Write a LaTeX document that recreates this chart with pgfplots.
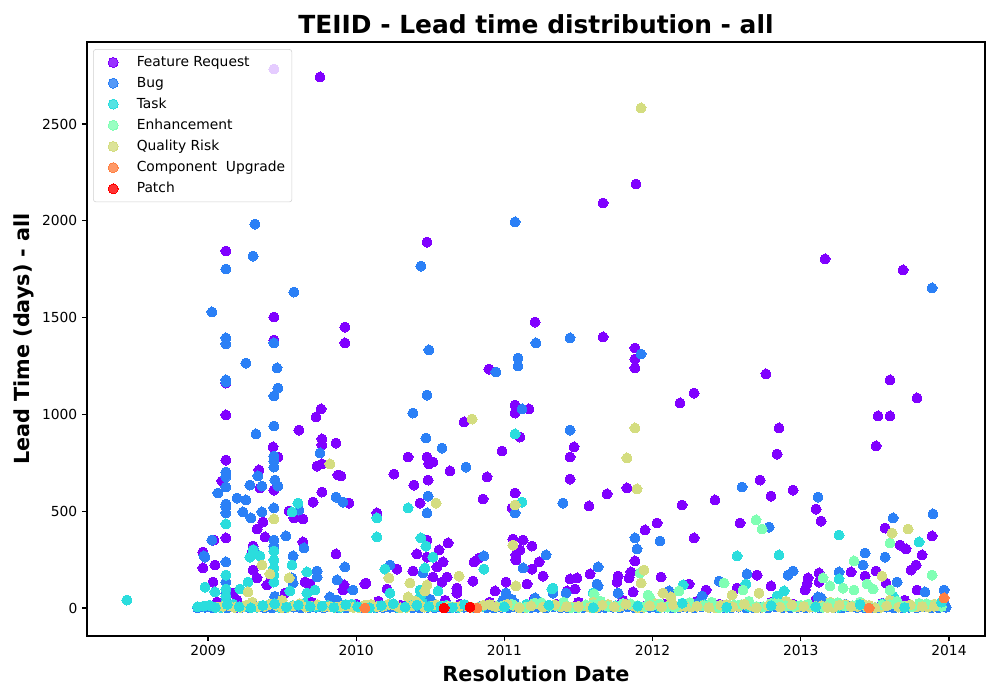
\documentclass[border=0pt]{standalone}
\usepackage{fontspec}
\setmainfont{DejaVu Sans}
\usepackage{pgfplots}
\pgfplotsset{compat=1.18}
\definecolor{cFR}{rgb}{0.5,0,1}
\definecolor{cBug}{rgb}{0.1667,0.5,0.9659}
\definecolor{cTask}{rgb}{0.1667,0.866,0.866}
\definecolor{cEnh}{rgb}{0.5,1,0.7071}
\definecolor{cQR}{rgb}{0.8333,0.866,0.5}
\definecolor{cCU}{rgb}{1,0.5,0.2588}
\definecolor{cPatch}{rgb}{1,0,0}
\begin{document}
\begin{tikzpicture}
\useasboundingbox (-62.9pt,-46.25pt) rectangle (659.84pt,459.65pt);
\begin{axis}[
  at={(0,0)}, anchor=south west,
  width=649pt, height=429.3pt, scale only axis,
  xmin=2008.184, xmax=2014.243, ymin=-144.6, ymax=2923.6,
  xtick={2009,2010,2011,2012,2013,2014},
  xticklabels={2009,2010,2011,2012,2013,2014},
  ytick={0,500,1000,1500,2000,2500},
  scaled ticks=false,
  /pgf/number format/assume math mode=true,
  /pgf/number format/1000 sep={},
  tick align=outside, tick pos=left, major tick length=3.5pt,
  every tick/.style={black, line width=0.8pt},
  axis line style={line width=0.8pt},
  ticklabel style={font=\fontsize{10}{12}\selectfont},
  xlabel={Resolution Date},
  ylabel={Lead Time (days) - all},
  xlabel style={font=\bfseries\fontsize{15}{18}\selectfont, at={(axis description cs:0.5,-0.063)}, anchor=center},
  ylabel style={font=\bfseries\fontsize{15}{18}\selectfont, at={(axis description cs:-0.0701,0.5)}, anchor=center},
  legend style={at={(axis description cs:0.0067,0.988)}, anchor=north west,
    draw=black!18, rounded corners=2pt, fill=white, fill opacity=0.8, text opacity=1,
    font=\fontsize{10}{12}\selectfont, row sep=2.2pt, inner sep=3pt},
  legend cell align=left,
  legend image code/.code={\path (0pt,-3pt) (26pt,3pt); \draw[#1] plot coordinates {(11.2pt,0pt)};},
  every axis plot/.append style={only marks, mark=*, mark size=3.6pt, mark options={line width=0pt}},
]
% Feature Request
\addplot[cFR] table {
x y
2009.756 2743
2009.445 2784
2009.121 1844
2009.121 1162
2009.121 997
2009.121 764
2009.094 656
2009.121 362
2008.966 289
2009.047 222
2008.966 207
2009.034 134
2009.061 31
2009.445 1503
2009.445 1384
2009.924 1451
2009.924 1369
2010.478 1890
2011.207 1477
2009.763 1028
2009.729 987
2009.614 919
2009.769 873
2009.769 842
2009.864 852
2009.439 832
2009.472 780
2009.736 733
2009.769 744
2009.344 713
2009.877 687
2009.445 609
2009.769 599
2009.709 547
2009.580 465
2009.641 460
2009.371 444
2009.331 408
2009.385 367
2009.641 341
2009.040 351
2009.304 320
2009.864 279
2009.304 196
2009.897 682
2009.951 542
2010.896 1234
2011.072 1048
2011.072 1007
2011.166 1028
2010.728 961
2011.105 883
2010.478 780
2010.491 744
2010.518 754
2010.984 811
2010.350 780
2010.633 708
2010.255 692
2010.390 635
2010.883 677
2010.485 661
2011.072 594
2010.856 563
2010.431 542
2011.052 517
2010.140 491
2010.478 351
2010.620 336
2010.559 300
2010.410 279
2010.478 263
2010.545 212
2010.586 238
2010.275 201
2010.383 191
2010.795 238
2010.829 258
2011.058 356
2011.126 351
2011.186 320
2011.105 300
2011.078 274
2011.078 248
2011.186 201
2011.234 238
2011.261 165
2010.066 129
2009.918 119
2010.613 160
2010.579 134
2010.680 103
2010.680 77
2010.788 139
2010.937 88
2011.011 134
2011.153 124
2010.208 98
2010.518 160
2011.666 2092
2011.888 2190
2011.666 1400
2011.881 1343
2011.881 1286
2011.881 1240
2012.185 1059
2012.280 1110
2011.470 832
2011.443 780
2011.443 666
2011.827 620
2011.571 527
2011.693 589
2012.199 532
2012.421 558
2012.590 439
2011.949 403
2012.030 439
2012.280 362
2011.881 243
2011.578 176
2011.443 150
2011.490 155
2011.767 165
2011.760 134
2011.841 155
2011.854 186
2011.868 83
2012.057 160
2012.246 124
2012.361 93
2012.570 103
2012.705 170
2012.725 661
2013.164 1803
2013.690 1746
2012.765 1209
2013.602 1178
2013.784 1085
2013.521 992
2013.602 992
2012.853 930
2012.840 795
2013.508 837
2012.799 578
2012.948 609
2013.103 511
2013.137 449
2013.569 413
2013.670 325
2013.710 305
2013.886 372
2013.818 274
2013.778 222
2013.744 196
2012.799 114
2013.049 155
2013.042 124
2013.123 181
2013.123 134
2013.029 93
2013.339 186
2013.508 191
2013.434 165
2013.575 129
2013.784 93
2011.423 88
2011.477 98
2009.351 620
2009.547 501
2009.297 289
2009.331 155
2009.169 77
2009.196 41
2009.418 134
2009.655 134
2009.688 124
2010.059 124
2009.911 93
2009.520 77
2009.398 119
2009.00 10
2009.10 25
2009.20 5
2009.30 15
2009.50 20
2009.60 8
2009.70 30
2009.80 12
2010.00 20
2010.15 35
2010.30 15
2010.45 25
2010.60 40
2010.70 20
2010.90 30
2011.00 15
2011.20 45
2011.35 20
2011.50 30
2011.65 15
2011.80 40
2011.95 10
2012.10 25
2012.30 35
2012.45 20
2012.60 15
2012.80 30
2012.95 20
2013.10 40
2013.25 15
2013.40 30
2013.55 25
2013.70 40
2013.85 20
2013.95 15
};
\addlegendentry{Feature Request}
% Bug
\addplot[cBug] table {
x y
2009.121 1167
2009.121 702
2009.121 677
2009.121 625
2009.067 594
2009.121 522
2009.121 491
2009.027 351
2008.980 263
2009.121 238
2009.121 134
2009.121 77
2009.317 1983
2009.304 1818
2009.121 1751
2009.580 1632
2009.027 1529
2009.445 1369
2009.121 1395
2009.121 1364
2009.256 1265
2009.466 1240
2009.121 1178
2009.472 1136
2009.445 1095
2009.445 940
2009.324 899
2009.445 785
2009.445 759
2009.445 728
2009.756 801
2009.337 682
2009.364 630
2009.283 635
2009.864 573
2009.196 568
2009.256 558
2009.121 537
2009.236 496
2009.290 465
2009.364 496
2009.445 517
2009.526 372
2009.445 351
2009.445 320
2009.648 310
2008.973 269
2009.310 300
2009.574 269
2009.736 191
2009.871 145
2011.072 1994
2010.437 1766
2011.213 1369
2010.491 1333
2011.092 1291
2011.092 1250
2010.943 1219
2010.478 1100
2010.383 1007
2011.119 1028
2010.471 878
2010.579 826
2010.741 728
2010.485 578
2009.911 547
2011.072 491
2010.478 491
2009.924 212
2010.228 222
2010.862 269
2011.126 207
2011.281 274
2009.978 93
2011.395 542
2011.443 1395
2011.922 1312
2011.443 919
2012.604 625
2011.881 362
2011.895 305
2012.050 346
2011.632 212
2011.625 124
2011.767 77
2011.416 77
2012.334 62
2012.449 139
2012.637 176
2013.886 1653
2013.116 573
2013.623 465
2013.892 486
2012.786 418
2013.434 284
2013.420 222
2013.569 263
2012.914 170
2012.948 191
2013.258 186
2013.650 134
2013.838 83
2013.967 93
2013.116 57
2013.137 52
2011.632 114
2012.111 88
2011.011 77
2011.207 52
2011.328 77
2010.451 181
2009.452 661
2009.472 630
2009.614 506
2009.567 155
2009.574 129
2009.736 160
2009.823 57
2009.870 41
2009.45 40
2009.45 60
2010.47 30
2010.50 45
2010.99 40
2011.01 60
2011.05 45
2011.07 25
2009.12 25
2009.12 45
2013.95 30
2013.97 20
2012.30 25
2012.90 30
2013.30 20
};
\addlegendentry{Bug}
% Task
\addplot[cTask] table {
x y
2008.453 41
2009.121 434
2008.980 108
2009.047 83
2009.121 170
2009.607 542
2009.567 496
2009.283 263
2009.351 269
2009.567 222
2009.445 294
2009.445 248
2009.445 207
2009.445 170
2009.445 134
2009.668 186
2011.072 899
2011.119 547
2010.350 517
2010.140 465
2010.140 367
2010.437 362
2010.471 320
2010.518 263
2010.862 201
2010.221 155
2010.431 93
2010.431 57
2010.464 207
2010.552 88
2010.228 77
2010.194 201
2011.321 98
2012.570 269
2012.206 119
2012.630 124
2011.598 77
2011.328 103
2013.258 377
2013.798 341
2012.853 274
2013.258 150
2012.887 88
2012.840 62
2013.623 62
2009.304 300
2009.270 134
2009.216 98
2009.553 88
2009.668 77
2009.722 93
2009.121 98
2009.121 60
2009.121 30
};
\addlegendentry{Task}
% Enhancement
\addplot[cEnh] table {
x y
2012.698 455
2012.739 408
2013.359 243
2013.602 336
2013.886 170
2013.150 155
2013.197 114
2013.285 103
2013.359 93
2013.447 124
2013.488 98
2013.602 93
2011.969 67
2012.178 88
2012.482 129
2012.610 93
2011.915 181
2011.605 72
2011.982 52
};
\addlegendentry{Enhancement}
% Quality Risk
\addplot[cQR] table {
x y
2011.922 2583
2011.881 930
2011.827 775
2011.895 615
2010.782 976
2010.539 542
2009.823 744
2009.445 460
2009.364 222
2009.418 176
2009.547 155
2011.072 532
2011.058 325
2010.221 155
2010.694 165
2010.363 129
2010.478 119
2010.464 88
2010.350 57
2011.078 114
2011.942 196
2011.922 129
2012.070 77
2012.124 57
2012.536 67
2012.718 77
2013.616 387
2013.724 408
2013.548 165
2009.270 83
2009.30 30
2009.50 40
2010.40 35
2011.60 30
2012.40 25
2012.90 35
2013.20 30
2013.60 40
2013.90 20
};
\addlegendentry{Quality Risk}
% ---- resolved within days: Bug
\addplot[cBug, forget plot] table {
x y
2008.93 0
2008.98 3
2009.03 1
2009.08 5
2009.13 0
2009.18 2
2009.23 4
2009.28 0
2009.33 6
2009.38 1
2009.43 0
2009.48 3
2009.53 1
2009.58 5
2009.63 0
2009.68 2
2009.73 4
2009.78 0
2009.83 6
2009.88 1
2009.93 0
2009.98 3
2010.03 1
2010.08 5
2010.13 0
2010.18 2
2010.23 4
2010.28 0
2010.33 6
2010.38 1
2010.43 0
2010.48 3
2010.53 1
2010.58 5
2010.63 0
2010.68 2
2010.73 4
2010.78 0
2010.83 6
2010.88 1
2010.93 0
2010.98 3
2011.03 1
2011.08 5
2011.13 0
2011.18 2
2011.23 4
2011.28 0
2011.33 6
2011.38 1
2011.43 0
2011.48 3
2011.53 1
2011.58 5
2011.63 0
2011.68 2
2011.73 4
2011.78 0
2011.83 6
2011.88 1
2011.93 0
2011.98 3
2012.03 1
2012.08 5
2012.13 0
2012.18 2
2012.23 4
2012.28 0
2012.33 6
2012.38 1
2012.43 0
2012.48 3
2012.53 1
2012.58 5
2012.63 0
2012.68 2
2012.73 4
2012.78 0
2012.83 6
2012.88 1
2012.93 0
2012.98 3
2013.03 1
2013.08 5
2013.13 0
2013.18 2
2013.23 4
2013.28 0
2013.33 6
2013.38 1
2013.43 0
2013.48 3
2013.53 1
2013.58 5
2013.63 0
2013.68 2
2013.73 4
2013.78 0
2013.83 6
2013.88 1
2013.93 0
2013.98 3
};
% Task (a)
\addplot[cTask, forget plot] table {
x y
2008.93 6
2009.01 14
2009.09 2
2009.17 20
2009.25 9
2009.33 4
2009.41 16
2009.49 0
2009.57 11
2009.65 25
2009.73 6
2009.81 14
2009.89 2
2009.97 20
2010.05 9
2010.13 4
2010.21 16
2010.29 0
2010.37 11
2010.45 25
2010.53 6
2010.61 14
2010.69 2
2010.85 8
2011.15 20
2011.45 5
2011.75 12
2012.05 3
2012.35 18
2012.65 7
2012.95 14
2013.25 4
2013.55 22
2013.85 9
};
% Quality Risk (a)
\addplot[cQR, forget plot] table {
x y
2009.06 5
2009.14 12
2009.22 2
2009.30 18
2009.38 8
2009.46 14
2009.54 4
2009.62 22
2009.70 10
2009.78 6
2009.86 5
2009.94 12
2010.02 2
2010.10 18
2010.18 8
2010.26 14
2010.34 4
2010.42 22
2010.50 10
2010.58 6
2010.66 5
2010.74 12
2010.82 2
2010.90 18
2010.98 8
2011.06 14
2011.14 4
2011.22 22
2011.30 10
2011.38 6
2011.46 5
2011.54 12
2011.62 2
2011.70 18
2011.78 8
2011.86 14
2011.94 4
2012.02 22
2012.10 10
2012.18 6
2012.26 5
2012.34 12
2012.42 2
2012.50 18
2012.58 8
2012.66 14
2012.74 4
2012.82 22
2012.90 10
2012.98 6
2013.06 5
2013.14 12
2013.22 2
2013.30 18
2013.38 8
2013.46 14
2013.54 4
2013.62 22
2013.70 10
2013.78 6
2013.86 5
2013.94 12
};
% Enhancement (a)
\addplot[cEnh, forget plot] table {
x y
2010.95 8
2011.05 20
2011.15 4
2011.25 28
2011.35 12
2011.45 2
2011.55 16
2011.65 35
2011.75 6
2011.85 22
2011.95 8
2012.05 20
2012.15 4
2012.25 28
2012.35 12
2012.45 2
2012.55 16
2012.65 35
2012.75 6
2012.85 22
2012.95 8
2013.05 20
2013.15 4
2013.25 28
2013.35 12
2013.45 2
2013.55 16
2013.65 35
2013.75 6
2013.85 22
2013.95 8
};
% Enhancement (b)
\addplot[cEnh, forget plot] table {
x y
2011.00 14
2011.10 5
2011.20 25
2011.30 10
2011.40 30
2011.50 3
2011.60 18
2011.70 8
2011.80 24
2011.90 12
2012.00 14
2012.10 5
2012.20 25
2012.30 10
2012.40 30
2012.50 3
2012.60 18
2012.70 8
2012.80 24
2012.90 12
2013.00 14
2013.10 5
2013.20 25
2013.30 10
2013.40 30
2013.50 3
2013.60 18
2013.70 8
2013.80 24
2013.90 12
};
% Quality Risk (b)
\addplot[cQR, forget plot] table {
x y
2009.10 9
2009.18 3
2009.26 15
2009.34 7
2009.42 20
2009.50 1
2009.58 11
2009.66 5
2009.74 17
2009.82 8
2009.90 9
2009.98 3
2010.06 15
2010.14 7
2010.22 20
2010.30 1
2010.38 11
2010.46 5
2010.54 17
2010.62 8
2010.70 9
2010.78 3
2010.86 15
2010.94 7
2011.02 20
2011.10 1
2011.18 11
2011.26 5
2011.34 17
2011.42 8
2011.50 9
2011.58 3
2011.66 15
2011.74 7
2011.82 20
2011.90 1
2011.98 11
2012.06 5
2012.14 17
2012.22 8
2012.30 9
2012.38 3
2012.46 15
2012.54 7
2012.62 20
2012.70 1
2012.78 11
2012.86 5
2012.94 17
2013.02 8
2013.10 9
2013.18 3
2013.26 15
2013.34 7
2013.42 20
2013.50 1
2013.58 11
2013.66 5
2013.74 17
2013.82 8
2013.90 9
};
% Task (b)
\addplot[cTask, forget plot] table {
x y
2008.97 10
2009.05 3
2009.13 18
2009.21 7
2009.29 1
2009.37 13
2009.45 22
2009.53 5
2009.61 15
2009.69 8
2009.77 10
2009.85 3
2009.93 18
2010.01 7
2010.09 1
2010.17 13
2010.25 22
2010.33 5
2010.41 15
2010.49 8
2010.57 10
2010.65 3
2010.73 18
2011.00 6
2011.30 15
2011.60 2
2011.90 10
2012.20 25
2012.50 4
2012.80 12
2013.10 7
2013.40 18
2013.70 3
2013.95 30
};
% Component Upgrade
\addplot[cCU] table {
x y
2010.059 0
2010.815 0
2013.461 0
2013.967 52
};
\addlegendentry{Component\ \ Upgrade}
% Patch
\addplot[cPatch] table {
x y
2010.593 0
2010.768 5
};
\addlegendentry{Patch}
\end{axis}
\node[font=\bfseries\fontsize{18}{22}\selectfont, anchor=base] at (324.5pt,435.1pt) {TEIID - Lead time distribution - all};
\end{tikzpicture}
\end{document}
